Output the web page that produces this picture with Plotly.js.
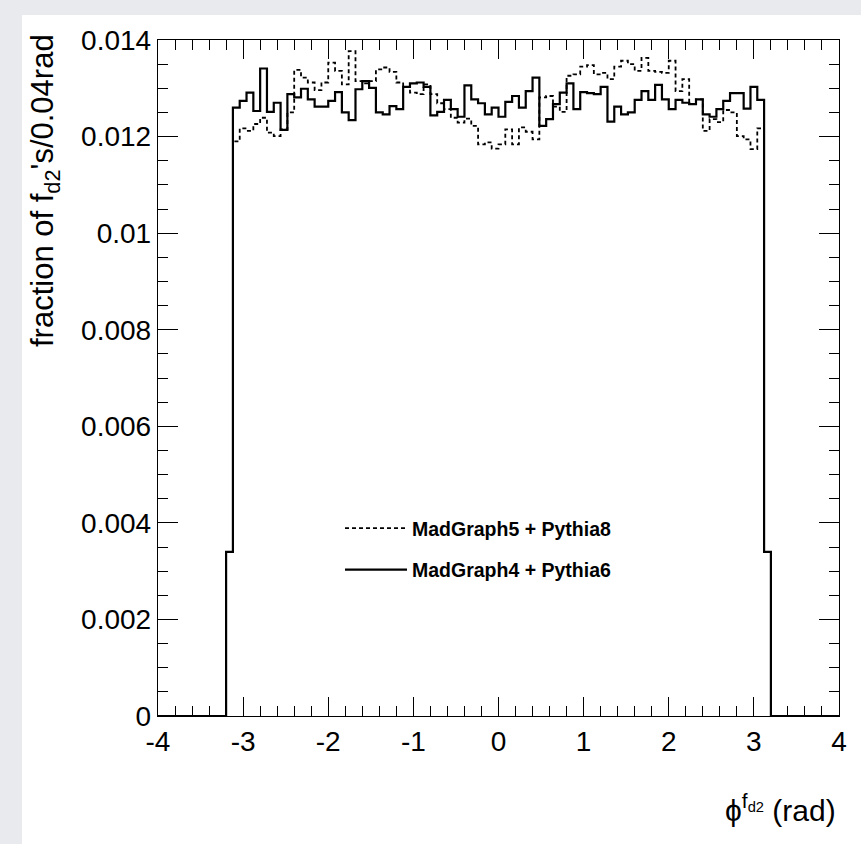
<!DOCTYPE html>
<html><head><meta charset="utf-8">
<script src="https://cdn.plot.ly/plotly-3.0.1.min.js"></script>
<style>html,body{margin:0;padding:0;background:#e9eaee;} #chart{width:861px;height:844px;}</style>
</head><body><div id="chart"></div>
<script>
// Histogram binning (phi of f_d2, rad)
const histLow = -4, histHigh = 4, binWidth = 0.08;
const filledStart = -3.2; // lower edge of first non-empty bin

// Bin contents (fraction per bin) from -3.2 to 3.2
const mg5py8 = [
  0.0034,
  0.01190,0.01217,0.01212,0.01226,0.01239,0.01208,0.01201,0.01215,0.01250,0.01338,
  0.01322,0.01312,0.01296,0.01312,0.01353,0.01336,0.01308,0.01377,0.01315,0.01310,
  0.01315,0.01339,0.01343,0.01334,0.01312,0.01303,0.01291,0.01288,0.01308,0.01288,
  0.01269,0.01257,0.01239,0.01229,0.01237,0.01222,0.01184,0.01188,0.01175,
  0.01184,0.01215,0.01184,0.01219,0.01210,0.01194,0.01281,0.01284,0.01262,0.01251,
  0.01326,0.01329,0.01345,0.01348,0.01329,0.01332,0.01319,0.01345,0.01357,0.01350,
  0.01336,0.01363,0.01336,0.01334,0.01332,0.01357,0.01294,0.01319,0.01267,0.01277,
  0.01212,0.01236,0.01230,0.01255,0.01250,0.01201,0.01194,0.01174,0.01217,
  0.0034
];
const mg4py6 = [
  0.0034,
  0.01260,0.01274,0.01291,0.01253,0.01341,0.01251,0.01270,0.01214,0.01288,0.01281,
  0.01299,0.01277,0.01262,0.01262,0.01274,0.01292,0.01250,0.01234,0.01298,0.01315,
  0.01301,0.01250,0.01246,0.01263,0.01257,0.01303,0.01310,0.01312,0.01303,0.01244,
  0.01251,0.01276,0.01257,0.01241,0.01306,0.01277,0.01269,0.01246,0.01260,
  0.01241,0.01272,0.01284,0.01260,0.01294,0.01322,0.01222,0.01236,0.01267,0.01291,
  0.01310,0.01257,0.01292,0.01290,0.01288,0.01303,0.01231,0.01262,0.01246,0.01250,
  0.01276,0.01294,0.01276,0.01307,0.01277,0.01257,0.01276,0.01270,0.01267,0.01277,
  0.01246,0.01241,0.01257,0.01274,0.01290,0.01290,0.01258,0.01303,0.01276,
  0.0034
];
const legendNames = ['MadGraph5 + Pythia8', 'MadGraph4 + Pythia6'];
const xTickVals = [-4, -3, -2, -1, 0, 1, 2, 3, 4];
const xTickText = ['-4', '-3', '-2', '-1', '0', '1', '2', '3', '4'];
const yTickVals = [0, 0.002, 0.004, 0.006, 0.008, 0.01, 0.012, 0.014];
const yTickText = ['0', '0.002', '0.004', '0.006', '0.008', '0.01', '0.012', '0.014'];
const yTitle = "fraction of f<sub>d2</sub>'s/0.04rad";
const xTitle = "\u03d5<sup>f<sub>d2</sub></sup> (rad)";

function stepSeries(vals) {
  const nBins = Math.round((histHigh - histLow) / binWidth);
  const offset = Math.round((filledStart - histLow) / binWidth);
  const x = [], y = [];
  for (let i = 0; i <= nBins; i++) {
    x.push(+(histLow + i * binWidth).toFixed(4));
    const j = i - offset;
    let v = (j >= 0 && j < vals.length) ? vals[j] : 0;
    if (i === nBins) v = y[y.length - 1];
    y.push(v);
  }
  return {x, y};
}

const FONT = 'Liberation Sans, Arial, Helvetica, sans-serif';
const s5 = stepSeries(mg5py8), s4 = stepSeries(mg4py6);

const traces = [
  {x: s5.x, y: s5.y, type: 'scatter', mode: 'lines', name: legendNames[0], legendgroup: 'a',
   line: {color: '#000', width: 1.8, dash: '4px,3px', shape: 'hv'}, cliponaxis: false},
  {x: s4.x, y: s4.y, type: 'scatter', mode: 'lines', name: legendNames[1], legendgroup: 'b',
   line: {color: '#000', width: 2.2, shape: 'hv'}, cliponaxis: false}
];

const L = 158, R = 839, T = 40, B = 716, W = 861, H = 844;
const px = v => (v - L) / (R - L);
const py = v => (B - v) / (B - T);

const axisCommon = {
  showline: true, linecolor: '#000', linewidth: 1.2, mirror: 'allticks',
  ticks: 'inside', tickcolor: '#000', tickwidth: 1,
  tickmode: 'array', showgrid: false, zeroline: false, fixedrange: true,
  tickfont: {family: FONT, size: 28, color: '#000'}
};

const layout = {
  width: W, height: H,
  margin: {l: L, r: W - R, t: T, b: H - B, pad: 0},
  paper_bgcolor: '#e9eaee', plot_bgcolor: '#fff',
  showlegend: true,
  legend: {x: px(340), xanchor: 'left', y: py(509), yanchor: 'top',
           bgcolor: 'rgba(0,0,0,0)', borderwidth: 0, itemwidth: 62,
           font: {family: FONT, size: 19.5, color: '#000', weight: 'bold'},
           traceorder: 'grouped', tracegroupgap: 13},
  xaxis: Object.assign({}, axisCommon, {
    range: [histLow, histHigh], tickvals: xTickVals, ticktext: xTickText, ticklen: 19,
    minor: {tickmode: 'linear', tick0: 0, dtick: 0.2, ticks: 'inside', ticklen: 10, tickcolor: '#000', tickwidth: 1}
  }),
  yaxis: Object.assign({}, axisCommon, {
    range: [0, 0.014], tickvals: yTickVals, ticktext: yTickText, ticklen: 20,
    minor: {tickmode: 'linear', tick0: 0, dtick: 0.0005, ticks: 'inside', ticklen: 10, tickcolor: '#000', tickwidth: 1}
  }),
  shapes: [
    {type: 'rect', xref: 'paper', yref: 'paper', layer: 'below',
     x0: px(22), x1: px(W + 5), y0: py(H + 5), y1: py(15),
     fillcolor: '#fff', line: {width: 0}}
  ],
  annotations: [
    {text: yTitle, xref: 'paper', yref: 'paper', x: px(45), y: py(190),
     xanchor: 'center', yanchor: 'middle', textangle: -90, showarrow: false,
     font: {family: FONT, size: 31, color: '#000'}},
    {text: xTitle, xref: 'paper', yref: 'paper', x: px(838), y: py(808),
     xanchor: 'right', yanchor: 'middle', showarrow: false,
     font: {family: FONT, size: 30, color: '#000'}}
  ]
};

Plotly.newPlot('chart', traces, layout, {staticPlot: true, displayModeBar: false});
</script>
</body></html>
